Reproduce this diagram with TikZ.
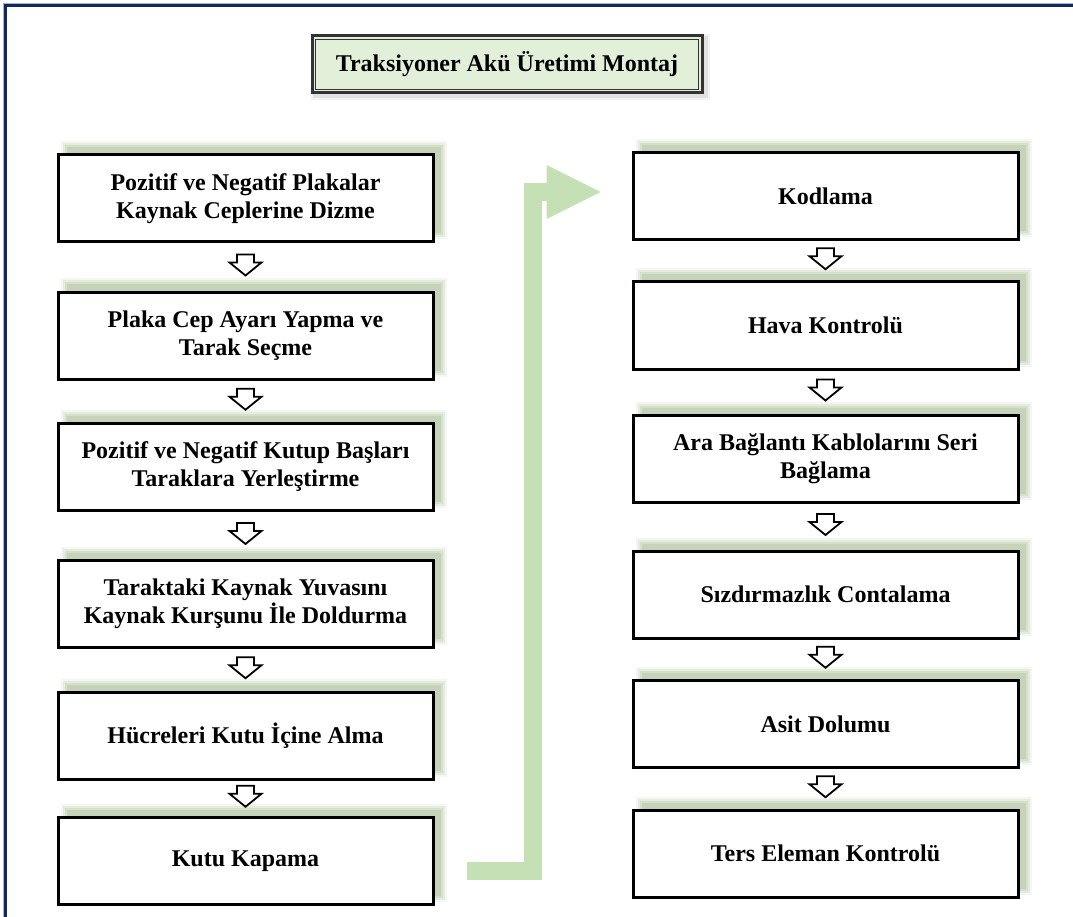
\documentclass[tikz,border=0pt]{standalone}
\usepackage{fontspec}
\setmainfont{Liberation Serif}
\usetikzlibrary{calc,arrows.meta,backgrounds}
\definecolor{navy}{RGB}{15,40,95}
\definecolor{shadowgreen}{RGB}{140,170,115}
\definecolor{arrowgreen}{RGB}{197,224,180}
\definecolor{titlefill}{RGB}{226,239,217}
\tikzset{
  stepbox/.style={draw=black, line width=3pt, fill=white, align=center,
    font=\bfseries\fontsize{24}{28}\selectfont, minimum height=87pt, inner sep=0pt},
  leftbox/.style={stepbox, minimum width=375pt},
  rightbox/.style={stepbox, minimum width=385pt},
  titlebox/.style={draw=black!80, line width=3pt, fill=titlefill,
    font=\bfseries\fontsize{24}{28}\selectfont, minimum width=390pt, minimum height=57pt, inner sep=0pt},
  flowline/.style={arrowgreen, line width=18pt, line join=miter,
    -{Triangle[length=54pt,width=54pt,line width=0pt]}},
  pics/hollowdown/.style={code={
    \draw[black, line width=1.8pt, line join=miter, fill=white]
      (-8.5,-10.5) -- (8.5,-10.5) -- (8.5,-2.5) -- (16,-2.5) -- (0,10.5)
      -- (-16,-2.5) -- (-8.5,-2.5) -- cycle;}}
}
\begin{document}
\begin{tikzpicture}[x=1pt,y=-1pt]
\useasboundingbox (0,0) rectangle (1073,917);
% frame
\draw[navy!35, line width=1.2pt] (3.2,917) -- (3.2,3.2) -- (1073,3.2);
\draw[navy, line width=3pt] (5.8,917) -- (5.8,5.8) -- (1073,5.8);

% title
\node[titlebox] (T) at (507,64.5) {Traksiyoner Akü Üretimi Montaj};
\draw[black!80, line width=1.2pt] ($(T.north west)+(5,5)$) rectangle ($(T.south east)+(-5,-5)$);

% left column
\node[leftbox] (L1) at (245.5,198.5) {Pozitif ve Negatif Plakalar\\Kaynak Ceplerine Dizme};
\node[leftbox] (L2) at (245.5,335.5) {Plaka Cep Ayarı Yapma ve\\Tarak Seçme};
\node[leftbox] (L3) at (245.5,467) {Pozitif ve Negatif Kutup Başları\\Taraklara Yerleştirme};
\node[leftbox] (L4) at (245.5,604) {Taraktaki Kaynak Yuvasını\\Kaynak Kurşunu İle Doldurma};
\node[leftbox] (L5) at (245.5,735.5) {Hücreleri Kutu İçine Alma};
\node[leftbox] (L6) at (245.5,861) {Kutu Kapama};

% right column
\node[rightbox] (R1) at (825.5,196) {Kodlama};
\node[rightbox] (R2) at (825.5,325.5) {Hava Kontrolü};
\node[rightbox] (R3) at (825.5,458.5) {Ara Bağlantı Kablolarını Seri\\Bağlama};
\node[rightbox] (R4) at (825.5,594.5) {Sızdırmazlık Contalama};
\node[rightbox] (R5) at (825.5,724) {Asit Dolumu};
\node[rightbox] (R6) at (825.5,853.5) {Ters Eleman Kontrolü};

% shadows
\begin{scope}[on background layer]
  \foreach \n in {L1,L2,L3,L4,L5,L6,R1,R2,R3,R4,R5,R6} {
    \foreach \k/\o in {4/0.10, 2/0.14, 0/0.18, -2/0.22} {
      \fill[shadowgreen, opacity=\o] ($(\n.north west)+(8-\k,-8-\k)$) rectangle ($(\n.south east)+(8+\k,-8+\k)$);
    }
  }
  \foreach \k/\o in {3/0.05, 1/0.07} {
    \fill[black, opacity=\o] ($(T.north west)+(3-\k,3-\k)$) rectangle ($(T.south east)+(3+\k,3+\k)$);
  }
\end{scope}

% small arrows
\foreach \a/\b in {L1/L2,L2/L3,L3/L4,L4/L5,L5/L6,R1/R2,R2/R3,R3/R4,R4/R5,R5/R6} {
  \pic at ($(\a.south)!0.5!(\b.north)+(0,-2)$) {hollowdown};
}

% big green connector
\draw[flowline] ($(L6.east)+(32,10)$) -| ($(R1.west)+(-99,-4)$) -- ($(R1.west)+(-31,-4)$);
\end{tikzpicture}
\end{document}
